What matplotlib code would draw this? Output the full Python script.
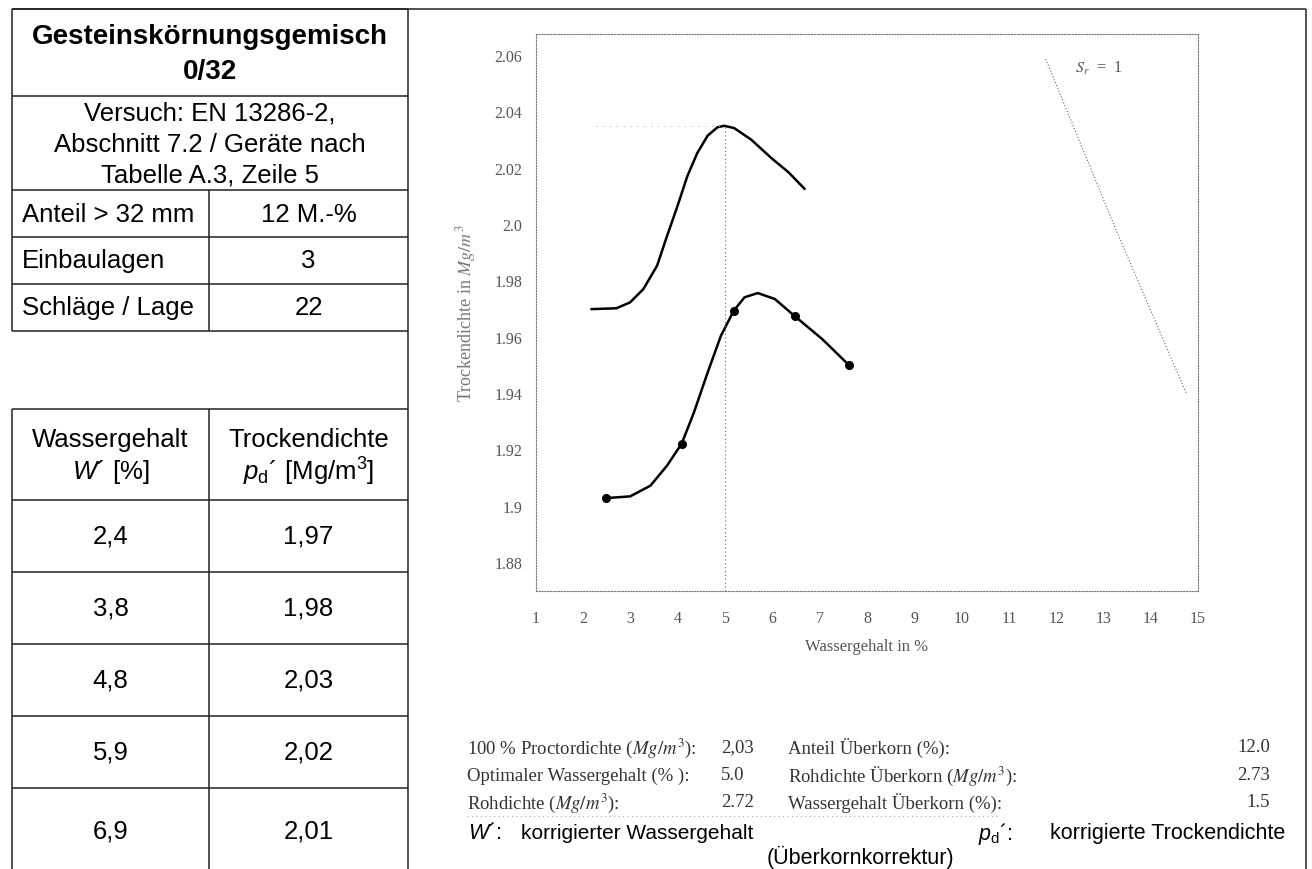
import matplotlib
matplotlib.use('Agg')
import matplotlib.pyplot as plt

plt.rcParams['mathtext.fontset'] = 'custom'
plt.rcParams['mathtext.rm'] = 'Liberation Sans'
plt.rcParams['mathtext.it'] = 'Liberation Sans:italic'
plt.rcParams['mathtext.bf'] = 'Liberation Sans:bold'

# ---------------- data ----------------
table_water = ['2,4', '3,8', '4,8', '5,9', '6,9']
table_density = ['1,97', '1,98', '2,03', '2,02', '2,01']

info_labels = ['Anteil > 32 mm', 'Einbaulagen', 'Schläge / Lage']
info_values = ['12 M.-%', '3', '22']

# measured points (lower curve markers)
meas_w = [2.49, 4.08, 5.18, 6.48, 7.62]
meas_rho = [1.9027, 1.9220, 1.9692, 1.9672, 1.9499]

low_w = [2.49, 2.99, 3.42, 3.77, 4.08, 4.34, 4.63, 4.91, 5.18, 5.41, 5.69, 6.05, 6.48, 7.05, 7.62]
low_rho = [1.9027, 1.9033, 1.9071, 1.9142, 1.9220, 1.9331, 1.9473, 1.9603, 1.9692,
           1.9740, 1.9755, 1.9734, 1.9672, 1.9592, 1.9499]

# upper (corrected) smooth curve
up_w = [2.17, 2.70, 2.99, 3.27, 3.56, 3.77, 3.99, 4.20, 4.41, 4.63, 4.84, 4.98,
        5.19, 5.55, 5.98, 6.34, 6.68]
up_rho = [1.9698, 1.9701, 1.9722, 1.9769, 1.9852, 1.9957, 2.0063, 2.0170, 2.0252,
          2.0314, 2.0344, 2.0349, 2.0341, 2.0300, 2.0234, 2.0184, 2.0125]

# saturation line S_r = 1
sr_w = [11.78, 13.26, 14.76]
sr_rho = [2.0586, 1.9982, 1.9396]

opt_w = 5.0
max_rho = 2.0349

x_ticks = list(range(1, 16))
y_ticks = [1.88, 1.90, 1.92, 1.94, 1.96, 1.98, 2.00, 2.02, 2.04, 2.06]
y_ticklabels = ['1.88', '1.9', '1.92', '1.94', '1.96', '1.98', '2.0', '2.02', '2.04', '2.06']

params_left = ['100 % Proctordichte ($Mg/m^3$):', 'Optimaler Wassergehalt (% ):', 'Rohdichte ($Mg/m^3$):']
params_left_val = ['2,03', '5.0', '2.72']
params_right = ['Anteil Überkorn (%):', 'Rohdichte Überkorn ($Mg/m^3$):', 'Wassergehalt Überkorn (%):']
params_right_val = ['12.0', '2.73', '1.5']

# ---------------- figure ----------------
W, H = 1312, 870
fig = plt.figure(figsize=(W / 100, H / 100), dpi=100)
ov = fig.add_axes([0, 0, 1, 1])
ov.set_xlim(0, W)
ov.set_ylim(H, 0)
ov.axis('off')

lc = '#222222'
lw = 1.1
sans = 'Liberation Sans'
serif = 'Liberation Serif'


def hline(y, x0, x1, **kw):
    ov.plot([x0, x1], [y, y], color=lc, lw=lw, solid_capstyle='butt', **kw)


def vline(x, y0, y1, **kw):
    ov.plot([x, x], [y0, y1], color=lc, lw=lw, solid_capstyle='butt', **kw)


# outer frame
hline(10, 12, 1306)
vline(1306, 10, 870)
vline(408, 10, 870)

# upper-left table
tl, tr, tm = 12, 408, 209
rows = [10, 97, 191, 238, 285, 332]
for y in rows:
    hline(y, tl, tr)
vline(tl, 10, 332)
vline(tm, 191, 332)

ov.text(210, 37, 'Gesteinskörnungsgemisch', ha='center', va='center',
        fontsize=20, fontweight='bold', family=sans)
ov.text(210, 72, '0/32', ha='center', va='center', fontsize=20, fontweight='bold', family=sans)
for yy, s in zip([113, 145, 176], ['Versuch: EN 13286-2,', 'Abschnitt 7.2 / Geräte nach',
                                  'Tabelle A.3, Zeile 5']):
    ov.text(210, yy, s, ha='center', va='center', fontsize=18.5, family=sans)
for i, (lab, val) in enumerate(zip(info_labels, info_values)):
    yc = (rows[2 + i] + rows[3 + i]) / 2
    ov.text(22, yc, lab, ha='left', va='center', fontsize=18.5, family=sans)
    ov.text((tm + tr) / 2, yc, val, ha='center', va='center', fontsize=18.5, family=sans)

# lower-left table
brows = [410, 501, 573, 645, 717, 789]
for y in brows:
    hline(y, tl, tr)
vline(tl, 410, 870)
vline(tm, 410, 870)
cl, cr = (tl + tm) / 2, (tm + tr) / 2
ov.text(cl, 440, 'Wassergehalt', ha='center', va='center', fontsize=18.5, family=sans)
ov.text(cl, 472, "$W$´ [%]", ha='center', va='center', fontsize=18.5, family=sans)
ov.text(cr, 440, 'Trockendichte', ha='center', va='center', fontsize=18.5, family=sans)
ov.text(cr, 472, "$p_\\mathrm{d}$´ [Mg/m$^3$]", ha='center', va='center', fontsize=18.5, family=sans)
row_centers = [537, 609, 681, 753, 832]
for yc, wv, dv in zip(row_centers, table_water, table_density):
    ov.text(cl, yc, wv, ha='center', va='center', fontsize=18.5, family=sans)
    ov.text(cr, yc, dv, ha='center', va='center', fontsize=18.5, family=sans)

# parameter block (serif, grey)
pc = '#333333'
for yy, a, av, b, bv in zip([748, 776, 803], params_left, params_left_val,
                            params_right, params_right_val):
    ov.text(467, yy, a, ha='left', va='center', fontsize=13.5, family=serif, color=pc,
            math_fontfamily='stix')
    ov.text(721, yy, av, ha='left', va='center', fontsize=13.5, family=serif, color=pc)
    ov.text(788, yy, b, ha='left', va='center', fontsize=13.5, family=serif, color=pc,
            math_fontfamily='stix')
    ov.text(1270, yy, bv, ha='right', va='center', fontsize=13.5, family=serif, color=pc)
ov.plot([467, 1000], [817, 817], color='#aaaaaa', lw=0.8, ls=(0, (1, 3)))

# legend block
ov.text(468, 834, "$W$´:", ha='left', va='center', fontsize=15.5, family=sans)
ov.text(521, 834, 'korrigierter Wassergehalt', ha='left', va='center', fontsize=15, family=sans)
ov.text(978, 834, "$p_\\mathrm{d}$´:", ha='left', va='center', fontsize=15.5, family=sans)
ov.text(1050, 834, 'korrigierte Trockendichte', ha='left', va='center', fontsize=15.5, family=sans)
ov.text(860, 857, '(Überkornkorrektur)', ha='center', va='center', fontsize=15.5, family=sans)

# ---------------- chart ----------------
ax_l, ax_r, ax_t, ax_b = 536, 1198, 35, 592
ax = fig.add_axes([ax_l / W, (H - ax_b) / H, (ax_r - ax_l) / W, (ax_b - ax_t) / H])
ax.set_facecolor('none')
ax.set_xlim(1, 15)
ax.set_ylim(1.8697, 2.0675)
for s in ax.spines.values():
    s.set_linestyle((0, (1, 1.5)))
    s.set_color('#777777')
    s.set_linewidth(0.8)

ax.plot(up_w, up_rho, color='black', lw=1.8, solid_capstyle='round', solid_joinstyle='round')
ax.plot(low_w, low_rho, color='black', lw=1.8, solid_capstyle='round', solid_joinstyle='round')
ax.plot(meas_w, meas_rho, ls='none', marker='o', ms=5.5, color='black')
ax.plot([opt_w, opt_w], [1.8697, max_rho], color='#666666', lw=0.8, ls=(0, (1, 2.5)))
ax.plot([2.27, opt_w], [max_rho, max_rho], color='#aaaaaa', lw=0.7, ls=(0, (1, 6)))
ax.plot(sr_w, sr_rho, color='#666666', lw=0.8, ls=(0, (1, 1.8)))
ax.text(12.9, 2.0555, '$S_r$  =  1', ha='center', va='center', fontsize=11.5, family=serif,
        color='#555555', math_fontfamily='stix')

ax.set_xticks(x_ticks)
ax.set_xticklabels([str(v) for v in x_ticks])
ax.set_yticks(y_ticks)
ax.set_yticklabels(y_ticklabels)
ax.tick_params(length=0, labelsize=11.5, labelcolor='#555555')
ax.tick_params(axis='x', pad=14)
ax.tick_params(axis='y', pad=10)
for t in ax.get_xticklabels() + ax.get_yticklabels():
    t.set_family(serif)
ax.set_xlabel('Wassergehalt in %', family=serif, fontsize=12, color='#555555', labelpad=8)
ax.set_ylabel('Trockendichte in $Mg/m^3$', family=serif, fontsize=13, color='#777777',
              labelpad=12, math_fontfamily='stix')

fig.savefig('out.png', dpi=100)
